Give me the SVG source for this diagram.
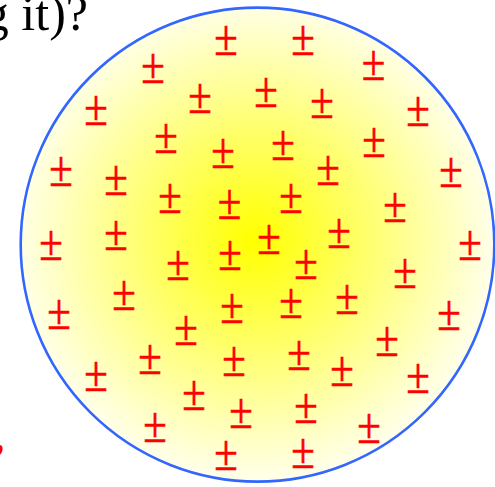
<svg xmlns="http://www.w3.org/2000/svg" width="495" height="487" viewBox="0 0 495 487">
  <defs>
    <radialGradient id="glow" gradientUnits="userSpaceOnUse" cx="255" cy="240" r="237">
      <stop offset="0" stop-color="#FFFF00"/>
      <stop offset="1" stop-color="#FFFFE8"/>
    </radialGradient>
    <style>
      .pm { font-family: "Liberation Serif", "Times New Roman", serif; font-size: 43px; fill: #FF0000; stroke: #FF0000; stroke-width: 0.5px; text-anchor: middle; }
      .title { font-family: "Liberation Serif", "Times New Roman", serif; font-size: 50px; fill: #000000; }
      .note { font-family: "Liberation Serif", "Times New Roman", serif; font-size: 46px; fill: #FF0000; font-style: italic; }
    </style>
  </defs>
  <rect width="495" height="487" fill="#FFFFFF"/>
  <text class="title" x="88" y="30" text-anchor="end">g it)?</text>
  <text class="note" x="-6" y="450">,</text>
  <g id="sphere">
    <ellipse cx="257.5" cy="244.6" rx="236.8" ry="237" fill="url(#glow)" stroke="#3366FF" stroke-width="2.6"/>
  </g>
  <g id="charges">
    <text class="pm" transform="translate(226,55.3) scale(1,1.2)">±</text>
    <text class="pm" transform="translate(303,55.3) scale(1,1.2)">±</text>
    <text class="pm" transform="translate(153,83.3) scale(1,1.2)">±</text>
    <text class="pm" transform="translate(373.5,80.3) scale(1,1.2)">±</text>
    <text class="pm" transform="translate(200,113.3) scale(1,1.2)">±</text>
    <text class="pm" transform="translate(266,107.3) scale(1,1.2)">±</text>
    <text class="pm" transform="translate(322,118.3) scale(1,1.2)">±</text>
    <text class="pm" transform="translate(418,126.3) scale(1,1.2)">±</text>
    <text class="pm" transform="translate(96,125.3) scale(1,1.2)">±</text>
    <text class="pm" transform="translate(166,153.3) scale(1,1.2)">±</text>
    <text class="pm" transform="translate(223,168.3) scale(1,1.2)">±</text>
    <text class="pm" transform="translate(283,160.3) scale(1,1.2)">±</text>
    <text class="pm" transform="translate(374,157.3) scale(1,1.2)">±</text>
    <text class="pm" transform="translate(61,186.3) scale(1,1.2)">±</text>
    <text class="pm" transform="translate(116,195.3) scale(1,1.2)">±</text>
    <text class="pm" transform="translate(170,213.3) scale(1,1.2)">±</text>
    <text class="pm" transform="translate(229.5,218.8) scale(1,1.2)">±</text>
    <text class="pm" transform="translate(328,185.3) scale(1,1.2)">±</text>
    <text class="pm" transform="translate(451,187.3) scale(1,1.2)">±</text>
    <text class="pm" transform="translate(291,212.8) scale(1,1.2)">±</text>
    <text class="pm" transform="translate(395,222.3) scale(1,1.2)">±</text>
    <text class="pm" transform="translate(51,260.3) scale(1,1.2)">±</text>
    <text class="pm" transform="translate(116,250.3) scale(1,1.2)">±</text>
    <text class="pm" transform="translate(178,280.3) scale(1,1.2)">±</text>
    <text class="pm" transform="translate(230,270.3) scale(1,1.2)">±</text>
    <text class="pm" transform="translate(124,310.3) scale(1,1.2)">±</text>
    <text class="pm" transform="translate(59,329.3) scale(1,1.2)">±</text>
    <text class="pm" transform="translate(232,323.3) scale(1,1.2)">±</text>
    <text class="pm" transform="translate(186,345.3) scale(1,1.2)">±</text>
    <text class="pm" transform="translate(150,374.3) scale(1,1.2)">±</text>
    <text class="pm" transform="translate(234,376.3) scale(1,1.2)">±</text>
    <text class="pm" transform="translate(96,391.3) scale(1,1.2)">±</text>
    <text class="pm" transform="translate(194,410.3) scale(1,1.2)">±</text>
    <text class="pm" transform="translate(241,428.3) scale(1,1.2)">±</text>
    <text class="pm" transform="translate(155,442.3) scale(1,1.2)">±</text>
    <text class="pm" transform="translate(226,470.3) scale(1,1.2)">±</text>
    <text class="pm" transform="translate(269,254.3) scale(1,1.2)">±</text>
    <text class="pm" transform="translate(339,248.3) scale(1,1.2)">±</text>
    <text class="pm" transform="translate(470,260.3) scale(1,1.2)">±</text>
    <text class="pm" transform="translate(306,279.3) scale(1,1.2)">±</text>
    <text class="pm" transform="translate(405,288.3) scale(1,1.2)">±</text>
    <text class="pm" transform="translate(291,318.3) scale(1,1.2)">±</text>
    <text class="pm" transform="translate(347,314.3) scale(1,1.2)">±</text>
    <text class="pm" transform="translate(449,330.3) scale(1,1.2)">±</text>
    <text class="pm" transform="translate(387,356.3) scale(1,1.2)">±</text>
    <text class="pm" transform="translate(299,370.3) scale(1,1.2)">±</text>
    <text class="pm" transform="translate(342,386.3) scale(1,1.2)">±</text>
    <text class="pm" transform="translate(418,393.3) scale(1,1.2)">±</text>
    <text class="pm" transform="translate(306,423.3) scale(1,1.2)">±</text>
    <text class="pm" transform="translate(369,443.3) scale(1,1.2)">±</text>
    <text class="pm" transform="translate(303,468.3) scale(1,1.2)">±</text>
  </g>
</svg>
